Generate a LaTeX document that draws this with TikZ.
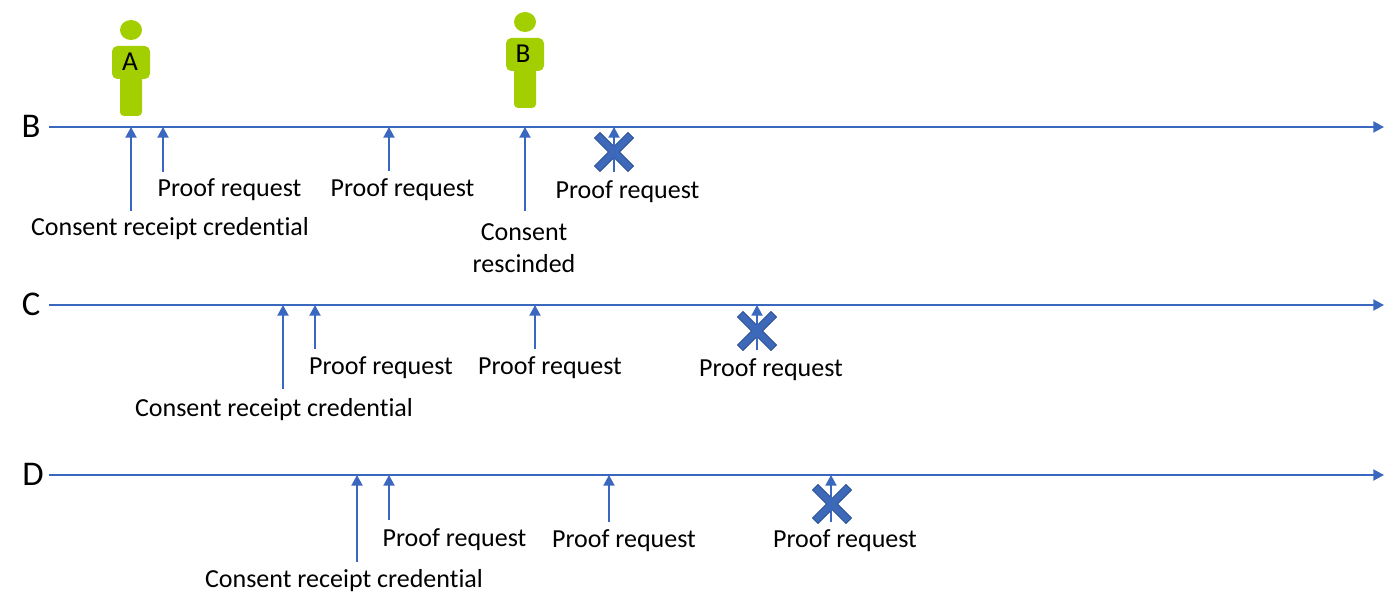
\documentclass[tikz,border=0pt]{standalone}
\usepackage{fontspec}
\setmainfont{Carlito}[Ligatures=NoCommon]
\usetikzlibrary{arrows.meta}
\definecolor{lineblue}{RGB}{58,104,190}
\definecolor{crossfill}{RGB}{62,104,184}
\definecolor{crossedge}{RGB}{44,82,150}
\definecolor{persongreen}{RGB}{163,206,0}
\tikzset{every picture/.style={line width=0.75pt}}
\tikzset{
  timeline/.style={draw=lineblue,line width=1.5pt,-{Triangle[length=8pt,width=8.25pt]}},
  request/.style={draw=lineblue,line width=1.5pt,-{Triangle[length=8pt,width=8.25pt]}},
  caption/.style={inner sep=0.75pt,font=\fontsize{19.5}{23}\selectfont,align=center},
  rowname/.style={inner sep=0.75pt,font=\fontsize{26}{31}\selectfont},
  badge/.style={inner sep=0.75pt,font=\fontsize{20.5}{24}\selectfont},
  proofcross/.pic={
    \path[fill=crossfill,draw=crossedge,line width=0.75pt,line join=round]
      (-14,-19.5) -- (0,-5.5) -- (14,-19.5) -- (19.5,-14) -- (5.5,0) -- (19.5,14) -- (14,19.5)
      -- (0,5.5) -- (-14,19.5) -- (-19.5,14) -- (-5.5,0) -- (-19.5,-14) -- cycle ;
  },
  person/.pic={
    \fill[persongreen] (0,86) ellipse (11 and 10);
    \fill[persongreen,rounded corners=4pt] (-19,70) rectangle (19,37);
    \fill[persongreen,rounded corners=3pt] (-11,42) rectangle (11,0);
  }
}
\begin{document}
\begin{tikzpicture}[x=0.75pt,y=0.75pt,yscale=-1,xscale=1]
\useasboundingbox (0,0) rectangle (1398,602);

% Row B
\coordinate (bstart) at (49,127);
\coordinate (bend) at (1384,127);
\node[rowname] (bname) at (31,126) {B};
\draw[timeline] (bstart) -- (bend);
\pic at (131,116) {person};
\pic at (525,108) {person};
\node[badge] (personA) at (130,62) {A};
\node[badge] (personB) at (523,54) {B};

\coordinate (b1top) at (131,127);
\coordinate (b1low) at (131,211);
\coordinate (b2top) at (163,127);
\coordinate (b2low) at (163,172);
\coordinate (b3top) at (389,127);
\coordinate (b3low) at (389,171);
\coordinate (b4top) at (525,127);
\coordinate (b4low) at (525,211);
\coordinate (b5top) at (614,127);
\coordinate (b5low) at (614,172);
\draw[request] (b1low) -- (b1top);
\draw[request] (b2low) -- (b2top);
\draw[request] (b3low) -- (b3top);
\draw[request] (b4low) -- (b4top);
\pic at (614,152) {proofcross};
\draw[request] (b5low) -- (b5top);
\node[caption] (bconsent) at (170,229) {Consent receipt credential};
\node[caption] (breq1) at (229.5,190) {Proof request};
\node[caption] (breq2) at (402.5,190) {Proof request};
\node[caption] (brescind) at (524,232) {Consent};
\node[caption] (brescind2) at (524,264) {rescinded};
\node[caption] (breq3) at (627.5,192) {Proof request};

% Row C
\coordinate (cstart) at (49,305);
\coordinate (cend) at (1384,305);
\node[rowname] (cname) at (31,304) {C};
\draw[timeline] (cstart) -- (cend);
\coordinate (c1top) at (283,305);
\coordinate (c1low) at (283,389);
\coordinate (c2top) at (315,305);
\coordinate (c2low) at (315,349);
\coordinate (c3top) at (535,305);
\coordinate (c3low) at (535,349);
\coordinate (c4top) at (757,305);
\coordinate (c4low) at (757,350);
\draw[request] (c1low) -- (c1top);
\draw[request] (c2low) -- (c2top);
\draw[request] (c3low) -- (c3top);
\pic at (757,331) {proofcross};
\draw[request] (c4low) -- (c4top);
\node[caption] (cconsent) at (274,410) {Consent receipt credential};
\node[caption] (creq1) at (381,368) {Proof request};
\node[caption] (creq2) at (550,368) {Proof request};
\node[caption] (creq3) at (771,370) {Proof request};

% Row D
\coordinate (dstart) at (49,475);
\coordinate (dend) at (1384,475);
\node[rowname] (dname) at (33,474) {D};
\draw[timeline] (dstart) -- (dend);
\coordinate (d1top) at (357,475);
\coordinate (d1low) at (357,562);
\coordinate (d2top) at (389,475);
\coordinate (d2low) at (389,520);
\coordinate (d3top) at (609,475);
\coordinate (d3low) at (609,522);
\coordinate (d4top) at (831,475);
\coordinate (d4low) at (831,522);
\draw[request] (d1low) -- (d1top);
\draw[request] (d2low) -- (d2top);
\draw[request] (d3low) -- (d3top);
\pic at (832,504) {proofcross};
\draw[request] (d4low) -- (d4top);
\node[caption] (dconsent) at (344,581) {Consent receipt credential};
\node[caption] (dreq1) at (454.5,540) {Proof request};
\node[caption] (dreq2) at (624,541) {Proof request};
\node[caption] (dreq3) at (845,541) {Proof request};

\end{tikzpicture}
\end{document}
